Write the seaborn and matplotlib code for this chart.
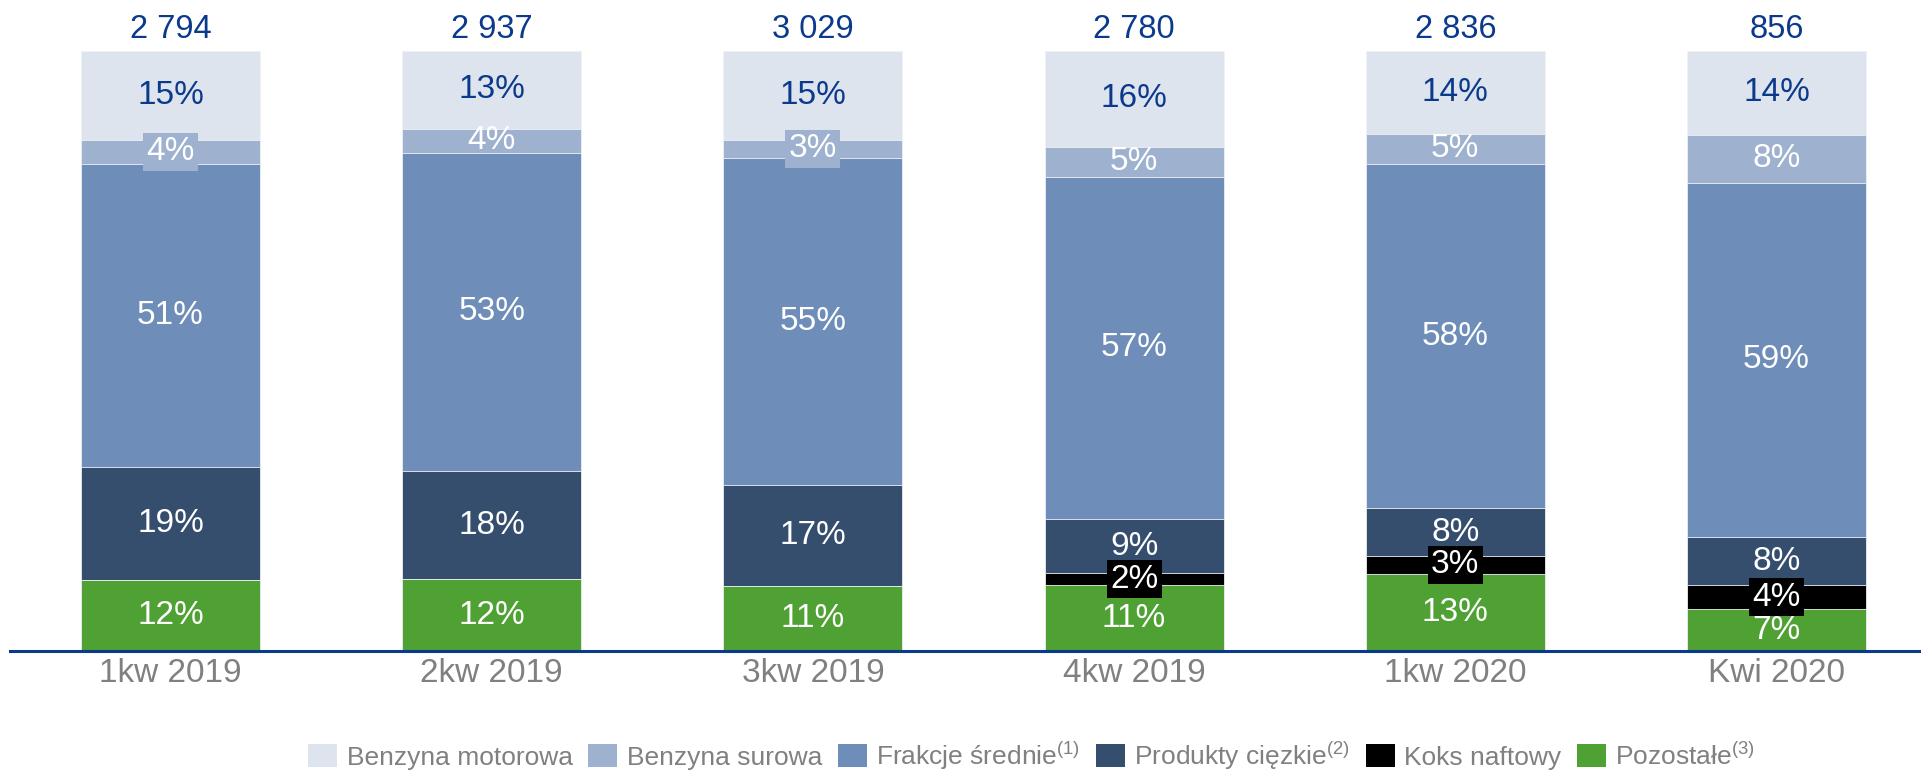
import numpy as np
import pandas as pd
import matplotlib
matplotlib.use("Agg")
import matplotlib.pyplot as plt
from matplotlib.patches import Patch
import seaborn as sns

# ---- data ----
periods = ["1kw 2019", "2kw 2019", "3kw 2019", "4kw 2019", "1kw 2020", "Kwi 2020"]
totals = ["2 794", "2 937", "3 029", "2 780", "2 836", "856"]

# shares in %, bottom -> top
pozostale = [12, 12, 11, 11, 13, 7]
koks = [0, 0, 0, 2, 3, 4]
ciezkie = [19, 18, 17, 9, 8, 8]
srednie = [51, 53, 55, 57, 58, 59]
surowa = [4, 4, 3, 5, 5, 8]
motorowa = [15, 13, 15, 16, 14, 14]

series_names = ["Pozostałe$^{(3)}$", "Koks naftowy", "Produkty cięzkie$^{(2)}$",
                "Frakcje średnie$^{(1)}$", "Benzyna surowa", "Benzyna motorowa"]
series_vals = [pozostale, koks, ciezkie, srednie, surowa, motorowa]
colors = ["#4EA132", "#000000", "#364E6E", "#6E8DB8", "#9EB1CE", "#DEE4EE"]
label_colors = ["white", "white", "white", "white", "white", "#0B3A8C"]

# small labels that sit on a box of the segment colour (series index, bar index)
boxed = {(1, 3), (1, 4), (1, 5), (4, 0), (4, 2)}

# ---- style ----
sns.set_theme(style="white")
plt.rcParams["font.family"] = ["Liberation Sans", "DejaVu Sans"]
plt.rcParams["mathtext.fontset"] = "custom"
plt.rcParams["mathtext.rm"] = "Liberation Sans"
plt.rcParams["mathtext.default"] = "regular"

vals = np.array(series_vals, dtype=float)
heights = vals / vals.sum(axis=0) * 100
cum = np.cumsum(heights, axis=0)
bottoms = cum - heights

fig = plt.figure(figsize=(19.21, 7.72), dpi=100)
ax = fig.add_axes([0.0052, 0.1567, 0.9948, 0.7773])

# layered stacked bars: draw cumulative heights from the top series down
for i in range(len(series_vals) - 1, -1, -1):
    df = pd.DataFrame({"period": periods, "value": cum[i]})
    sns.barplot(data=df, x="period", y="value", color=colors[i], saturation=1,
                width=0.557, edgecolor="#eef1f6", linewidth=0.6, ax=ax)

# segment labels
for i, vlist in enumerate(series_vals):
    for j, v in enumerate(vlist):
        if v == 0:
            continue
        y = bottoms[i][j] + heights[i][j] / 2
        kw = {}
        if (i, j) in boxed:
            kw["bbox"] = dict(facecolor=colors[i], edgecolor="none", pad=2.5)
        ax.text(j, y, f"{v}%", ha="center", va="center", fontsize=24,
                color=label_colors[i], **kw)

# totals above bars
for j, t in enumerate(totals):
    ax.text(j, 103.6, t, ha="center", va="center", fontsize=23.5,
            color="#0B3A8C", clip_on=False)

ax.set_xlim(-0.5, 5.45)
ax.set_ylim(0, 100)
ax.set_xlabel("")
ax.set_ylabel("")
ax.set_yticks([])
sns.despine(ax=ax, left=True, top=True, right=True)
ax.spines["bottom"].set_color("#0A3A8A")
ax.spines["bottom"].set_linewidth(2.2)
ax.tick_params(axis="x", length=0, pad=5, labelsize=24, labelcolor="#808080")

handles = [Patch(facecolor=colors[i], edgecolor="none", label=series_names[i])
           for i in range(len(series_names) - 1, -1, -1)]
fig.legend(handles=handles, loc="center", bbox_to_anchor=(0.537, 0.021), ncol=6,
           frameon=False, fontsize=19, labelcolor="#808080", handlelength=1.1,
           handleheight=0.95, handletextpad=0.35, columnspacing=0.6,
           borderaxespad=0, borderpad=0)

fig.savefig("out.png", dpi=100)
